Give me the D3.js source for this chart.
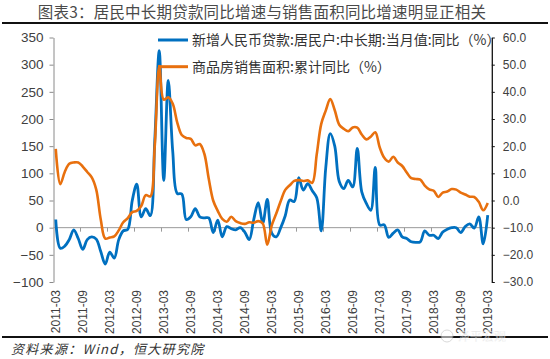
<!DOCTYPE html>
<html><head><meta charset="utf-8">
<script src="https://cdn.jsdelivr.net/npm/d3@7"></script>
<style>body{margin:0;background:#fff}svg{display:block}</style>
</head><body>
<svg id="c" width="550" height="359"></svg>
<script>
// ---------- data ----------
const title = "图表3：居民中长期贷款同比增速与销售面积同比增速明显正相关";
const source = "资料来源：Wind，恒大研究院";
const seriesNames = ["新增人民币贷款:居民户:中长期:当月值:同比（%）", "商品房销售面积:累计同比（%）"];
const months = d3.timeMonth.range(new Date(2011, 2, 1), new Date(2019, 3, 1)).map(d3.timeFormat("%Y-%m"));
const tickLabels = ["2011-03","2011-09","2012-03","2012-09","2013-03","2013-09","2014-03","2014-09","2015-03","2015-09","2016-03","2016-09","2017-03","2017-09","2018-03","2018-09","2019-03"];
const leftTicks = [-100,-50,0,50,100,150,200,250,300,350];
const rightTicks = [-30,-20,-10,0,10,20,30,40,50,60];
const loanYoY = [15,-38,-34,-22,-4,-20,-40,-22,-17,-21,-44,-67,-45,-56,-22,-6,-3,50,80,20,
  35,22,160,326,87,271,140,63,62,15,20,35,20,18,18,-9,14,-17,2,-2,
  -4,0,-8,-22,15,46,8,52,-10,-17,0,22,51,48,92,69,81,68,55,-6,
  110,173,150,85,72,87,75,146,66,45,32,111,5,5,-18,-10,-4,-17,-20,-26,
  -27,-26,-6,-14,-14,-20,-8,-3,0,0,-9,2,7,-1,20,-30,23];
const salesYoY = [19,6,10.5,13.5,14,14,12.5,10.5,8.5,4,-7,-14,-13.6,-13.2,-11,-8,-6.5,-4.3,-3.8,-2,
  2,1.5,20,49.5,37.1,38,35.6,28.7,24.1,23,22.7,20.3,20.8,17.3,8,-0.1,-3.8,-6.8,-7.8,-6,
  -7.6,-8.3,-8.6,-8,-8.2,-7.6,-8.5,-16.3,-9.2,-4.8,-0.2,3.9,5.6,7.2,7.5,7.2,7.4,6.5,17,28.2,
  33.1,37.3,33.2,27.9,26.4,25.5,26.9,26.8,24.3,22.5,23.5,25.1,19.5,15.7,14.3,16.1,14,12.7,10.3,8.2,
  7.9,7.7,5.5,4.1,3.6,1.3,2.9,3.3,4.2,4,2.9,2.2,1.4,1.3,-0.5,-3.6,-0.9];
const colors = ["#0070C0", "#E8700E"];

// ---------- chart ----------
const svg = d3.select("#c");
const x = d3.scaleLinear().domain([-0.5, months.length - 0.1]).range([53.5, 491.8]);
const yL = d3.scaleLinear().domain([-100, 350]).range([282, 37.5]);
const yR = d3.scaleLinear().domain([-30, 60]).range([282, 37.5]);
const lab = "Liberation Sans, Arial, sans-serif";
const cjk = "'Noto Sans CJK SC', sans-serif";

// title
svg.append("text").attr("x", 262).attr("y", 18).attr("text-anchor", "middle")
  .attr("font-family", cjk).attr("font-size", 15.5).attr("letter-spacing", 0.2).attr("fill", "#4a4a4a").text(title);
svg.append("line").attr("x1", 2).attr("x2", 548).attr("y1", 23).attr("y2", 23)
  .attr("stroke", "#111").attr("stroke-width", 2);

// left axis
const gL = svg.append("g").attr("transform", `translate(${x.range()[0]},0)`)
  .call(d3.axisLeft(yL).tickValues(leftTicks).tickSize(4).tickSizeOuter(0).tickPadding(6));
gL.select(".domain").attr("stroke", "#8a8a8a");
gL.selectAll(".tick line").attr("stroke", "#8a8a8a");
gL.selectAll("text").attr("font-family", lab).attr("font-size", 13.5).attr("fill", "#404040");

// right axis
const gR = svg.append("g").attr("transform", `translate(${x.range()[1]},0)`)
  .call(d3.axisRight(yR).tickValues(rightTicks).tickFormat(d3.format(".1f")).tickSize(3).tickSizeOuter(0).tickPadding(8));
gR.select(".domain").attr("stroke", "#111").attr("stroke-width", 1.3);
gR.selectAll(".tick line").attr("stroke", "#111");
gR.selectAll("text").attr("font-family", lab).attr("font-size", 12).attr("fill", "#404040");

// category axis at zero
const y0 = yL(0);
svg.append("line").attr("x1", x.range()[0]).attr("x2", x.range()[1]).attr("y1", y0).attr("y2", y0)
  .attr("stroke", "#9a9a9a").attr("stroke-width", 1);
const tickIdx = tickLabels.map(t => months.indexOf(t));
svg.append("g").selectAll("line").data(tickIdx.filter(i => i > 0)).join("line")
  .attr("x1", i => x(i - 0.5)).attr("x2", i => x(i - 0.5))
  .attr("y1", y0).attr("y2", y0 + 4).attr("stroke", "#9a9a9a");
svg.append("g").selectAll("text").data(tickLabels).join("text")
  .attr("transform", t => `translate(${x(months.indexOf(t))},290) rotate(-90)`)
  .attr("text-anchor", "end").attr("dy", "0.35em")
  .attr("font-family", lab).attr("font-size", 12).attr("fill", "#404040").text(t => t);

// lines
const curve = d3.curveCatmullRom.alpha(0.5);
svg.append("path").datum(loanYoY)
  .attr("d", d3.line().x((d, i) => x(i)).y(d => yL(d)).curve(curve))
  .attr("fill", "none").attr("stroke", colors[0]).attr("stroke-width", 2.8).attr("stroke-linejoin", "round");
svg.append("path").datum(salesYoY)
  .attr("d", d3.line().x((d, i) => x(i)).y(d => yR(d)).curve(curve))
  .attr("fill", "none").attr("stroke", colors[1]).attr("stroke-width", 2.6).attr("stroke-linejoin", "round");

// legend
const leg = svg.append("g");
[40, 66.7].forEach((ly, k) => {
  leg.append("line").attr("x1", 158).attr("x2", 188).attr("y1", ly).attr("y2", ly)
    .attr("stroke", colors[k]).attr("stroke-width", 3);
  leg.append("text").attr("x", 192).attr("y", ly + 5.3)
    .attr("font-family", cjk).attr("font-size", 14).attr("fill", "#333").text(seriesNames[k]);
});

// footer
svg.append("line").attr("x1", 2).attr("x2", 548).attr("y1", 337).attr("y2", 337)
  .attr("stroke", "#111").attr("stroke-width", 2);
svg.append("text").attr("x", 11).attr("y", 354).attr("font-family", cjk).attr("font-style", "italic")
  .attr("font-size", 13).attr("letter-spacing", 1.3).attr("fill", "#333").text(source);

// watermark
const wm = svg.append("g").attr("opacity", 0.55);
wm.append("circle").attr("cx", 447).attr("cy", 336).attr("r", 6).attr("fill", "#fff").attr("stroke", "#bbb");
wm.append("text").attr("x", 458).attr("y", 341).attr("font-family", cjk).attr("font-size", 12)
  .attr("fill", "#aaa").attr("stroke", "#fff").attr("stroke-width", 0.5).text("泽平宏观");
</script>
</body></html>
